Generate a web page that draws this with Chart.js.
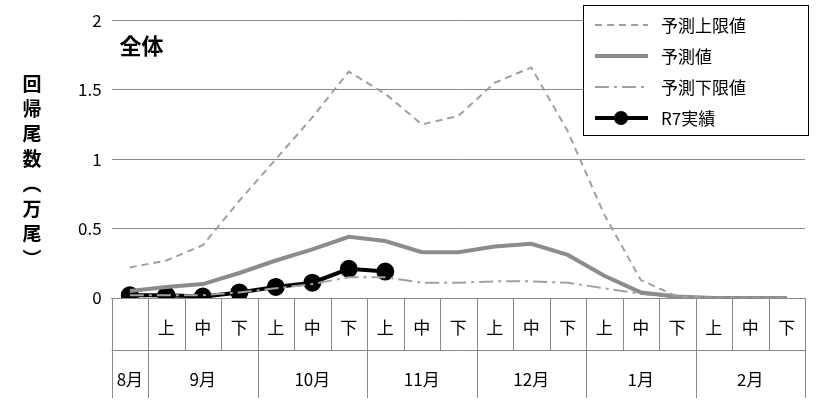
<!DOCTYPE html>
<html><head><meta charset="utf-8">
<script src="https://cdn.jsdelivr.net/npm/chart.js@4"></script>
<style>body{margin:0;background:#fff}#wrap{width:827px;height:401px}</style>
</head><body><div id="wrap"><canvas id="c"></canvas></div>
<script>
// 旬ごとのカテゴリ（8月下旬〜2月下旬）
const junLabels = ['', '上', '中', '下', '上', '中', '下', '上', '中', '下', '上', '中', '下', '上', '中', '下', '上', '中', '下'];
const months = [['8月', 1], ['9月', 3], ['10月', 3], ['11月', 3], ['12月', 3], ['1月', 3], ['2月', 3]];
const upper = [0.22, 0.27, 0.38, 0.7, 1.0, 1.3, 1.63, 1.47, 1.25, 1.31, 1.55, 1.66, 1.2, 0.6, 0.13, 0.01, 0, 0, 0];
const predicted = [0.05, 0.08, 0.1, 0.18, 0.27, 0.35, 0.44, 0.41, 0.33, 0.33, 0.37, 0.39, 0.31, 0.16, 0.04, 0.01, 0, 0, 0];
const lower = [0.02, 0.02, 0.02, 0.04, 0.07, 0.1, 0.15, 0.15, 0.11, 0.11, 0.12, 0.12, 0.11, 0.07, 0.03, 0.0, 0, 0, 0];
const actual = [0.02, 0.02, 0.01, 0.04, 0.08, 0.11, 0.21, 0.19, null, null, null, null, null, null, null, null, null, null, null];
const yTicks = [0, 0.5, 1, 1.5, 2];

const FONT = '"Noto Sans CJK JP", sans-serif';

const extras = {
  id: 'extras',
  afterDraw(chart) {
    const { ctx, chartArea: a, scales: { x } } = chart;
    const step = x.getPixelForValue(1) - x.getPixelForValue(0);
    const left = x.getPixelForValue(0) - step / 2;
    const y0 = a.bottom, y1 = y0 + 52, y2 = y0 + 100;
    ctx.save();
    ctx.strokeStyle = '#888'; ctx.lineWidth = 1;
    ctx.fillStyle = '#000';
    ctx.font = '17px ' + FONT;
    ctx.textAlign = 'center'; ctx.textBaseline = 'middle';
    ctx.beginPath();
    for (let i = 0; i <= junLabels.length; i++) {
      const px = Math.round(left + i * step) + 0.5;
      ctx.moveTo(px, y0); ctx.lineTo(px, y1);
    }
    ctx.moveTo(left, y1 + 0.5); ctx.lineTo(left + step * junLabels.length, y1 + 0.5);
    let idx = 0;
    ctx.moveTo(Math.round(left) + 0.5, y1); ctx.lineTo(Math.round(left) + 0.5, y2);
    months.forEach(([m, n]) => {
      idx += n;
      const px = Math.round(left + idx * step) + 0.5;
      ctx.moveTo(px, y1); ctx.lineTo(px, y2);
    });
    ctx.stroke();
    junLabels.forEach((l, i) => ctx.fillText(l, x.getPixelForValue(i), y0 + 30));
    idx = 0;
    months.forEach(([m, n]) => {
      const cx = n === 1 ? x.getPixelForValue(idx) : x.getPixelForValue(idx + 1);
      ctx.fillText(m, cx, y0 + 82);
      idx += n;
    });
    // 軸タイトル（縦書き）
    ctx.font = 'bold 19px ' + FONT;
    const title = ['回', '帰', '尾', '数', '︵', '万', '尾', '︶'];
    title.forEach((ch, i) => ctx.fillText(ch, 32, 84 + i * 25));
    ctx.font = 'bold 22px ' + FONT;
    ctx.textAlign = 'left';
    ctx.fillText('全体', a.left + 8, 46);
    // 凡例
    const lx = 583, ly = 5, lw = 225, lh = 130;
    ctx.fillStyle = '#fff'; ctx.fillRect(lx, ly, lw, lh);
    ctx.strokeStyle = '#000'; ctx.strokeRect(lx + 0.5, ly + 0.5, lw, lh);
    ctx.font = '17px ' + FONT;
    chart.data.datasets.forEach((ds, i) => {
      const yy = ly + 20 + i * 31;
      ctx.strokeStyle = ds.borderColor; ctx.lineWidth = ds.borderWidth;
      ctx.setLineDash(ds.borderDash || []);
      ctx.beginPath(); ctx.moveTo(lx + 12, yy); ctx.lineTo(lx + 65, yy); ctx.stroke();
      ctx.setLineDash([]);
      if (ds.pointRadius) {
        ctx.fillStyle = ds.pointBackgroundColor;
        ctx.beginPath(); ctx.arc(lx + 38, yy, ds.pointRadius, 0, Math.PI * 2); ctx.fill();
      }
      ctx.fillStyle = '#000';
      ctx.fillText(ds.label, lx + 78, yy + 1);
    });
    ctx.restore();
  }
};

new Chart(document.getElementById('c'), {
  type: 'line',
  data: {
    labels: junLabels,
    datasets: [
      { label: '予測上限値', data: upper, borderColor: '#a0a0a0', borderWidth: 2, borderDash: [7, 5], pointRadius: 0 },
      { label: '予測値', data: predicted, borderColor: '#8c8c8c', borderWidth: 4, pointRadius: 0 },
      { label: '予測下限値', data: lower, borderColor: '#a0a0a0', borderWidth: 2, borderDash: [14, 5, 3, 5], pointRadius: 0 },
      { label: 'R7実績', data: actual, borderColor: '#000', borderWidth: 4, pointRadius: 7, pointBackgroundColor: '#000', pointBorderColor: '#000', spanGaps: false }
    ]
  },
  options: {
    responsive: true, maintainAspectRatio: false, animation: false,
    layout: { padding: { left: 68, right: 22, top: 18, bottom: 95 } },
    plugins: { legend: { display: false }, tooltip: { enabled: false } },
    scales: {
      x: { offset: true, grid: { display: false }, ticks: { display: false }, border: { color: '#888' } },
      y: {
        min: 0, max: 2,
        afterBuildTicks: s => { s.ticks = yTicks.map(v => ({ value: v })); },
        grid: { color: '#888', drawTicks: false },
        border: { display: false },
        ticks: { color: '#000', font: { size: 17, family: FONT }, padding: 10, callback: v => String(v) }
      }
    }
  },
  plugins: [extras]
});
</script></body></html>
